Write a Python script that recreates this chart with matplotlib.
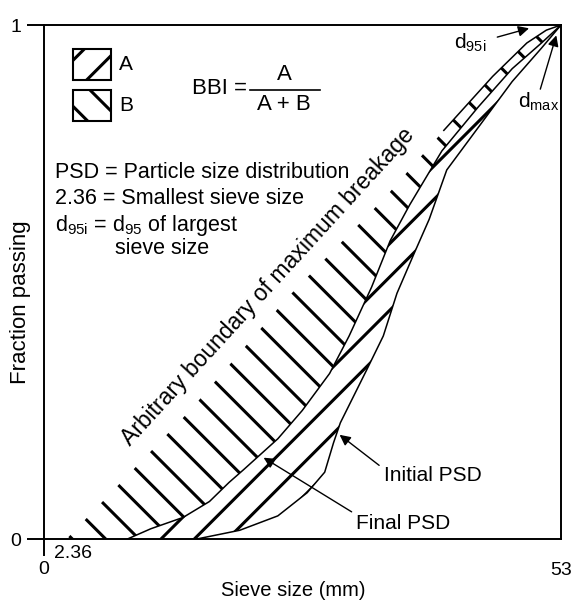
import matplotlib
matplotlib.use("Agg")
import matplotlib.pyplot as plt
from matplotlib.patches import Rectangle
from matplotlib.lines import Line2D
import numpy as np

plt.rcParams['font.family'] = ['Liberation Sans', 'DejaVu Sans']
plt.rcParams['mathtext.fontset'] = 'custom'
plt.rcParams['mathtext.rm'] = 'Liberation Sans'
plt.rcParams['mathtext.it'] = 'Liberation Sans'
plt.rcParams['hatch.linewidth'] = 2.2

# ---- data (sieve size in mm, fraction passing) ----
boundary_x = [2.36, 15, 25, 35, 41, 46, 49.5, 51.5, 53]
boundary_y = [0.0, 0.25, 0.47, 0.665, 0.795, 0.90, 0.965, 0.99, 1.0]

final_x = [2.36, 8.6, 11, 14.3, 17, 19, 20.5, 24, 26.5, 29.3, 31.3, 33.6, 35.5, 37.5, 40.8, 44.5, 48, 51, 53]
final_y = [0.0, 0.0, 0.02, 0.042, 0.073, 0.11, 0.135, 0.195, 0.25, 0.322, 0.395, 0.49, 0.58, 0.65, 0.755, 0.84, 0.915, 0.965, 1.0]

initial_x = [15.7, 20.1, 24, 27, 28.8, 29.7, 30.4, 33.1, 34.8, 36.2, 37.9, 39.5, 41.3, 44.5, 48, 51, 53]
initial_y = [0.0, 0.017, 0.045, 0.09, 0.13, 0.187, 0.226, 0.329, 0.395, 0.478, 0.553, 0.622, 0.718, 0.80, 0.89, 0.955, 1.0]

y_ticks = [0, 1]
y_tick_labels = ["0", "1"]
x_ticks = [0]
x_tick_labels = ["0"]
x_max_label = "53"
x_min_sieve_label = "2.36"

grid = np.linspace(0, 53, 800)
b_on = np.interp(grid, boundary_x, boundary_y)
f_on = np.interp(grid, final_x, final_y, left=0.0)
i_on = np.interp(grid, initial_x, initial_y, left=0.0)

fig = plt.figure(figsize=(5.73, 6.01), dpi=100)
ax = fig.add_axes([43.5/573, 62/601, (561-43.5)/573, (539-25)/601])
ax.set_xlim(0, 53)
ax.set_ylim(0, 1)

# region B : between boundary and final PSD
mB = grid >= boundary_x[0]
ax.fill_between(grid[mB], f_on[mB], b_on[mB], facecolor='none', edgecolor='black',
                hatch='\\', linewidth=0)
# region A : between final and initial PSD
mA = grid >= final_x[1]
ax.fill_between(grid[mA], i_on[mA], f_on[mA], facecolor='none', edgecolor='black',
                hatch='/', linewidth=0)

ax.plot(final_x[1:], final_y[1:], color='black', lw=1.1)
ax.plot(initial_x, initial_y, color='black', lw=1.1)
ax.plot(boundary_x[4:], boundary_y[4:], color='black', lw=1.1)

for s in ax.spines.values():
    s.set_linewidth(1.4)

ax.set_yticks(y_ticks, y_tick_labels, fontsize=14)
ax.set_xticks(x_ticks, x_tick_labels, fontsize=14)
ax.tick_params(axis='both', direction='out', length=12, width=1.4, pad=4)

ax.text(53, -0.045, x_max_label, fontsize=14, ha='center', va='top')
ax.text(0.02, -0.012, x_min_sieve_label, fontsize=14, transform=ax.transAxes, ha='left', va='top')

fig.text(293/573, 1 - 590/601, "Sieve size (mm)", fontsize=14.5, ha='center', va='center')
fig.text(21/573, 1 - 302/601, "Fraction passing", fontsize=16, ha='center', va='center', rotation=90)

# legend boxes
for (yy, h, lab) in [(49, '/', 'A'), (90, '\\', 'B')]:
    r = Rectangle((73/573, 1 - (yy + 31)/601), 38/573, 31/601, transform=fig.transFigure,
                  facecolor='none', edgecolor='black', lw=1.5, hatch=h)
    fig.patches.append(r)
    fig.text(119/573, 1 - (yy + 15)/601, lab, fontsize=15, ha='left', va='center')

# BBI formula
fig.text(192/573, 1 - 89/601, "BBI =", fontsize=16, ha='left', va='center')
fig.text(284/573, 1 - 75/601, "A", fontsize=16, ha='center', va='center')
fig.text(284/573, 1 - 104/601, "A + B", fontsize=16, ha='center', va='center')
fig.add_artist(Line2D([250/573, 320/573], [1 - 90/601, 1 - 90/601], color='black', lw=1.2))

# notes
fig.text(55/573, 1 - 172/601, "PSD = Particle size distribution", fontsize=15.5, ha='left', va='center')
fig.text(55/573, 1 - 199/601, "2.36 = Smallest sieve size", fontsize=15.5, ha='left', va='center')
fig.text(55/573, 1 - 225/601, r"d$_{95i}$ = d$_{95}$ of largest", fontsize=15.5, ha='left', va='center')
fig.text(115/573, 1 - 248/601, "sieve size", fontsize=15.5, ha='left', va='center')

ax.text(23.0, 0.49, "Arbitrary boundary of maximum breakage", fontsize=16.5,
        rotation=47.5, rotation_mode='anchor', ha='center', va='center')

arrow = dict(arrowstyle='-|>', color='black', lw=1.0, mutation_scale=16)
ax.annotate("", xy=(30.1, 0.206), xytext=(34.6, 0.14), arrowprops=arrow)
ax.text(34.9, 0.123, "Initial PSD", fontsize=15, ha='left', va='center')
ax.annotate("", xy=(22.3, 0.161), xytext=(31.8, 0.05), arrowprops=arrow)
ax.text(32.0, 0.03, "Final PSD", fontsize=15, ha='left', va='center')

ax.annotate("", xy=(50.0, 0.995), xytext=(46.2, 0.975), arrowprops=arrow)
ax.text(43.7, 0.965, r"d$_{95i}$", fontsize=15, ha='center', va='center')
ax.annotate("", xy=(52.6, 0.985), xytext=(50.8, 0.87), arrowprops=arrow)
ax.text(50.7, 0.85, r"d$_{\mathrm{max}}$", fontsize=15, ha='center', va='center')

fig.savefig("out.png", dpi=100)
